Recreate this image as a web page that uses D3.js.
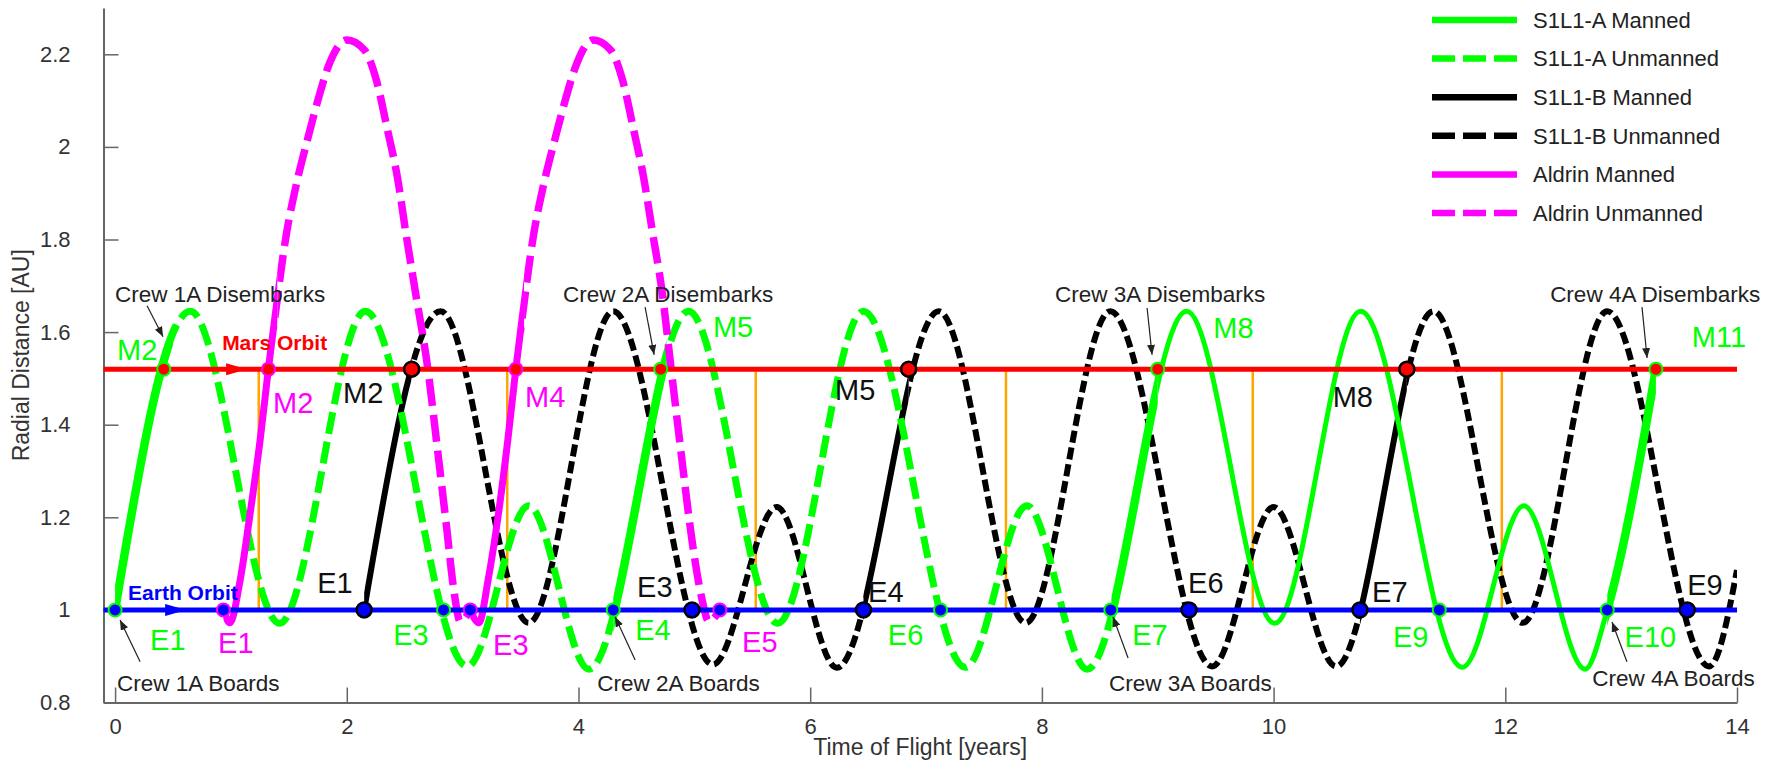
<!DOCTYPE html>
<html><head><meta charset="utf-8">
<script src="https://cdn.jsdelivr.net/npm/d3@7"></script>
<style>
body{margin:0;background:#fff}
svg{display:block}
text{font-family:"Liberation Sans",Arial,Helvetica,sans-serif}
</style>
</head><body>
<svg id="c" width="1787" height="764"></svg>
<script>
// ---------------- DATA ----------------
const xTicks = [0, 2, 4, 6, 8, 10, 12, 14];
const yTicks = [0.8, 1, 1.2, 1.4, 1.6, 1.8, 2, 2.2];
const xTitle = "Time of Flight [years]";
const yTitle = "Radial Distance [AU]";
const earthR = 1.0;
const marsR = 1.52;

// S1L1-A trajectory (time [yr], radius [AU])
const s1l1A = [[0,1.0],[0.65,1.645],[1.42,0.971],[2.16,1.645],[3.04,0.878],[3.57,1.225],[4.09,0.872],
  [4.95,1.645],[5.72,0.971],[6.46,1.645],[7.34,0.876],[7.87,1.225],[8.39,0.872],[9.25,1.645],
  [10.01,0.971],[10.75,1.645],[11.63,0.876],[12.16,1.225],[12.69,0.872],[12.88,1.0],[13.30,1.52]];
const s1l1AManned = [[0,0.50],[4.30,4.76],[8.60,9.00],[12.88,13.30]];
const s1l1ASolidUnmanned = [[9.00,12.88]];

// S1L1-B trajectory
const s1l1B = [[2.15,1.0],[2.81,1.645],[3.57,0.972],[4.30,1.645],[5.16,0.882],[5.71,1.222],[6.23,0.875],
  [7.11,1.645],[7.86,0.972],[8.59,1.645],[9.47,0.878],[10.0,1.222],[10.54,0.878],[11.38,1.645],
  [12.15,0.972],[12.88,1.645],[13.76,0.878],[14.0,1.086]];
const s1l1BManned = [[2.15,2.56],[6.46,6.85],[10.745,11.15]];

// Aldrin legs
const aldrin1 = [[0.935,1.0],[0.99,0.972],[1.08,1.065],[1.166,1.209],[1.252,1.367],[1.324,1.522],[1.38,1.633],
  [1.48,1.814],[1.56,1.914],[1.66,2.015],[1.75,2.10],[1.85,2.18],[2.0,2.231],[2.15,2.21],[2.26,2.14],
  [2.345,2.044],[2.44,1.93],[2.51,1.814],[2.59,1.69],[2.70,1.52],[2.78,1.353],[2.864,1.173],[2.92,1.05],
  [2.98,0.975],[3.066,1.0]];
const aldrin2 = [[3.066,1.0],[3.14,0.972],[3.22,1.065],[3.31,1.209],[3.39,1.367],[3.46,1.522],[3.515,1.633],
  [3.615,1.814],[3.695,1.914],[3.795,2.015],[3.885,2.10],[3.985,2.18],[4.125,2.231],[4.275,2.21],[4.385,2.14],
  [4.47,2.044],[4.565,1.93],[4.64,1.814],[4.72,1.69],[4.80,1.52],[4.89,1.33],[4.98,1.15],[5.06,1.03],
  [5.125,0.975],[5.22,1.0]];
const aldrinManned = [[0.935,1.40],[3.066,3.53]];

// synodic markers (orange)
const synodicMarks = [1.24, 3.385, 5.53, 7.69, 9.82, 11.97];

// encounters
const earthA = [0, 2.835, 4.30, 7.125, 8.595, 11.43, 12.88];
const earthB = [2.15, 4.98, 6.46, 9.27, 10.745, 13.57];
const earthAl = [0.935, 3.066, 5.22];
const marsA = [0.42, 4.71, 9.0, 13.30];
const marsB = [2.56, 6.85, 11.15];
const marsAl = [1.324, 3.46];

// labels [text, t, r]
const labelsA = [["M2",0.017,1.540],["E1",0.302,0.914],["E3",2.40,0.924],["E4",4.49,0.935],["M5",5.16,1.590],
  ["E6",6.67,0.924],["E7",8.78,0.924],["M8",9.48,1.587],["E9",11.03,0.920],["E10",13.03,0.920],["M11",13.61,1.568]];
const labelsAl = [["M2",1.364,1.425],["E1",0.889,0.907],["E3",3.263,0.903],["M4",3.539,1.438],["E5",5.412,0.909]];
const labelsB = [["E1",1.744,1.037],["M2",1.968,1.447],["E3",4.506,1.028],["M5",6.215,1.454],["E4",6.50,1.017],
  ["E6",9.262,1.037],["E7",10.85,1.017],["M8",10.51,1.438],["E9",13.57,1.032]];

// annotations [text, textT, textR, fromT, fromR, toT, toR]
const notes = [
  ["Crew 1A Disembarks",0.0,1.665,0.276,1.657,0.414,1.590],
  ["Crew 1A Boards",0.017,0.825,0.216,0.888,0.043,0.978],
  ["Crew 2A Disembarks",3.867,1.665,4.575,1.654,4.653,1.551],
  ["Crew 2A Boards",4.161,0.825,4.489,0.892,4.316,0.985],
  ["Crew 3A Disembarks",8.114,1.665,8.908,1.652,8.951,1.551],
  ["Crew 3A Boards",8.58,0.825,8.744,0.896,8.614,0.985],
  ["Crew 4A Disembarks",12.387,1.665,13.18,1.654,13.224,1.544],
  ["Crew 4A Boards",12.75,0.836,13.05,0.888,12.921,0.974]
];
const orbitNames = [["Earth Orbit",0.112,1.0216],["Mars Orbit",0.924,1.5616]];
const orbitArrowT = [0.613, 1.14];
const legendNames = ["S1L1-A Manned","S1L1-A Unmanned","S1L1-B Manned","S1L1-B Unmanned","Aldrin Manned","Aldrin Unmanned"];

// ---------------- DRAW ----------------
const GREEN = "#00ff00", MAG = "#ff00ff", BLK = "#000000", BLUE = "#0000ff", RED = "#ff0000", ORANGE = "#ffa500";
const svg = d3.select("#c");
const defs = svg.append("defs");
const x = d3.scaleLinear().domain([-0.1, 14]).range([103.5, 1737]);
const y = d3.scaleLinear().domain([0.8, 2.3]).range([702.5, 8]);
const line = d3.line().x(d => x(d[0])).y(d => y(d[1])).curve(d3.curveMonotoneX);

let cid = 0;
function clipFor(spans) {
  const id = "clip" + (cid++);
  const cp = defs.append("clipPath").attr("id", id);
  spans.forEach(s => cp.append("rect").attr("x", x(s[0])).attr("y", 0)
    .attr("width", Math.max(0, x(s[1]) - x(s[0]))).attr("height", 764));
  return "url(#" + id + ")";
}
function complement(spans, t0, t1) {
  const s = spans.slice().sort((a, b) => a[0] - b[0]);
  const out = []; let cur = t0;
  s.forEach(p => { if (p[0] > cur) out.push([cur, p[0]]); cur = Math.max(cur, p[1]); });
  if (cur < t1) out.push([cur, t1]);
  return out;
}

// axes
const axG = svg.append("g");
const yAxis = d3.axisLeft(y).tickValues(yTicks).tickSize(-15).tickSizeOuter(0).tickPadding(33)
  .tickFormat(d => d3.format("~g")(d));
const xAxis = d3.axisBottom(x).tickValues(xTicks).tickSize(-15).tickSizeOuter(0).tickPadding(16);
const gy = axG.append("g").attr("transform", `translate(${x(-0.1)},0)`).call(yAxis);
const gx = axG.append("g").attr("transform", `translate(0,${y(0.8)})`).call(xAxis);
[gx, gy].forEach(g => {
  g.select(".domain").attr("stroke", "#666").attr("stroke-width", 2);
  g.selectAll(".tick line").attr("stroke", "#666").attr("stroke-width", 1.5);
  g.selectAll(".tick text").attr("fill", "#333").style("font-size", "22px")
    .style("font-family", '"Liberation Sans",Arial,sans-serif');
});
svg.append("text").attr("x", (x(-0.1) + x(14)) / 2).attr("y", 755).attr("text-anchor", "middle")
  .style("font-size", "23px").attr("fill", "#333").text(xTitle);
svg.append("text").attr("transform", `translate(29,${(y(0.8) + y(2.3)) / 2}) rotate(-90)`).attr("text-anchor", "middle")
  .style("font-size", "23px").attr("fill", "#333").text(yTitle);

// orange synodic markers
svg.append("g").selectAll("line").data(synodicMarks).join("line")
  .attr("x1", d => x(d)).attr("x2", d => x(d)).attr("y1", y(earthR)).attr("y2", y(marsR))
  .attr("stroke", ORANGE).attr("stroke-width", 2.5);

function drawTraj(pts, manned, solidUn, color, wMan, wDash, wThin, dash) {
  const t0 = pts[0][0], t1 = pts[pts.length - 1][0];
  const d = line(pts);
  const dashedSpans = complement(manned.concat(solidUn), t0, t1);
  const g = svg.append("g").attr("fill", "none").attr("stroke", color);
  g.append("path").attr("d", d).attr("stroke-width", wDash).attr("stroke-dasharray", dash)
    .attr("clip-path", clipFor(dashedSpans));
  if (solidUn.length) g.append("path").attr("d", d).attr("stroke-width", wThin).attr("clip-path", clipFor(solidUn));
  g.append("path").attr("d", d).attr("stroke-width", wMan).attr("clip-path", clipFor(manned));
}
drawTraj(s1l1B, s1l1BManned, [], BLK, 6, 6, 6, "12,5");
drawTraj(s1l1A, s1l1AManned, s1l1ASolidUnmanned, GREEN, 8.5, 7, 5, "22,8");
drawTraj(aldrin1, aldrinManned.filter(s => s[0] < 3), [], MAG, 7, 7.5, 7, "27,9");
drawTraj(aldrin2, aldrinManned.filter(s => s[0] >= 3), [], MAG, 7, 7.5, 7, "27,9");

// orbit lines
svg.append("line").attr("x1", x(-0.1)).attr("x2", x(14)).attr("y1", y(earthR)).attr("y2", y(earthR))
  .attr("stroke", BLUE).attr("stroke-width", 5);
svg.append("line").attr("x1", x(-0.1)).attr("x2", x(14)).attr("y1", y(marsR)).attr("y2", y(marsR))
  .attr("stroke", RED).attr("stroke-width", 5);
[[orbitArrowT[0], earthR, BLUE], [orbitArrowT[1], marsR, RED]].forEach(a => {
  const tx = x(a[0]), ty = y(a[1]);
  svg.append("path").attr("d", `M${tx},${ty}L${tx - 21},${ty - 6}L${tx - 21},${ty + 6}Z`).attr("fill", a[2]);
});
orbitNames.forEach((o, i) => {
  svg.append("text").attr("x", x(o[1])).attr("y", y(o[2])).style("font-size", "21px").style("font-weight", "bold")
    .attr("fill", i === 0 ? BLUE : RED).text(o[0]);
});

// encounter dots
function dots(ts, r, fill, edge, rad, sw) {
  svg.append("g").selectAll("circle").data(ts).join("circle")
    .attr("cx", d => x(d)).attr("cy", y(r)).attr("r", rad)
    .attr("fill", fill).attr("stroke", edge).attr("stroke-width", sw);
}
dots(earthA, earthR, BLUE, GREEN, 6.5, 2);
dots(earthAl, earthR, BLUE, MAG, 6.5, 2);
dots(earthB, earthR, BLUE, BLK, 7.5, 2.5);
dots(marsA, marsR, RED, GREEN, 6.5, 2);
dots(marsAl, marsR, RED, MAG, 6.5, 2);
dots(marsB, marsR, RED, BLK, 7.5, 2.5);

// event labels
function labels(arr, color) {
  svg.append("g").selectAll("text").data(arr).join("text")
    .attr("x", d => x(d[1])).attr("y", d => y(d[2])).attr("fill", color)
    .style("font-size", "29px").text(d => d[0]);
}
labels(labelsA, GREEN);
labels(labelsAl, MAG);
labels(labelsB, "#111");

// annotations
defs.append("marker").attr("id", "ah").attr("viewBox", "0 0 10 8").attr("refX", 10).attr("refY", 4)
  .attr("markerWidth", 10).attr("markerHeight", 8).attr("markerUnits", "userSpaceOnUse").attr("orient", "auto")
  .append("path").attr("d", "M0,0L10,4L0,8Z").attr("fill", "#222");
const ng = svg.append("g");
notes.forEach(n => {
  ng.append("text").attr("x", x(n[1])).attr("y", y(n[2])).style("font-size", "22.5px").attr("fill", "#222").text(n[0]);
  ng.append("line").attr("x1", x(n[3])).attr("y1", y(n[4])).attr("x2", x(n[5])).attr("y2", y(n[6]))
    .attr("stroke", "#222").attr("stroke-width", 1.2).attr("marker-end", "url(#ah)");
});

// legend
const legStyles = [[GREEN, null], [GREEN, "23,8"], [BLK, null], [BLK, "23,8"], [MAG, null], [MAG, "23,8"]];
const lg = svg.append("g");
legendNames.forEach((name, i) => {
  const ly = 20 + i * 38.6;
  lg.append("line").attr("x1", 1432).attr("x2", 1517).attr("y1", ly).attr("y2", ly)
    .attr("stroke", legStyles[i][0]).attr("stroke-width", 6.5).attr("stroke-dasharray", legStyles[i][1]);
  lg.append("text").attr("x", 1533).attr("y", ly).attr("dy", "0.35em").style("font-size", "22px")
    .attr("fill", "#222").text(name);
});
</script>
</body></html>
